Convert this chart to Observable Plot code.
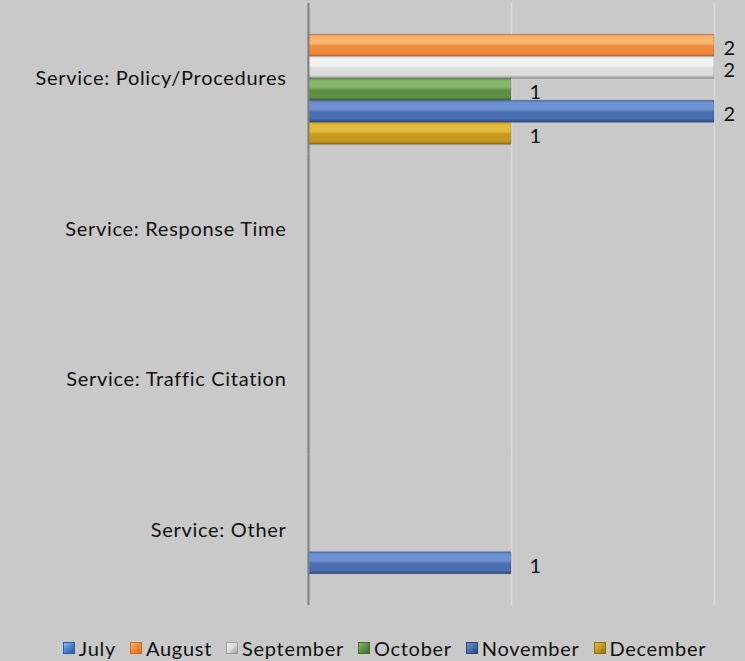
<!DOCTYPE html>
<html>
<head>
<meta charset="utf-8">
<script src="https://cdn.jsdelivr.net/npm/d3@7"></script>
<script src="https://cdn.jsdelivr.net/npm/@observablehq/plot@0.6"></script>
<style>
  html, body { margin: 0; padding: 0; background: #c9c9c9; }
  body { width: 745px; height: 661px; overflow: hidden; font-family: Lato, "Open Sans", sans-serif; }
  #chart svg { display: block; letter-spacing: 0.7px; }
  #legend { display: flex; justify-content: center; align-items: center; margin-top: 16px; padding-left: 24px; height: 24px; line-height: 24px; font-size: 20px; letter-spacing: 0.7px; color: #111; }
  .item { display: flex; align-items: center; margin: 0 7px; }
  .sw { width: 12px; height: 12px; margin-right: 4px; box-sizing: border-box; }
</style>
</head>
<body>
<div id="chart"></div>
<div id="legend"></div>
<script>
const categories = ["Service: Policy/Procedures", "Service: Response Time", "Service: Traffic Citation", "Service: Other"];
const months = ["July", "August", "September", "October", "November", "December"];
const july      = [0, 0, 0, 0];
const august    = [2, 0, 0, 0];
const september = [2, 0, 0, 0];
const october   = [1, 0, 0, 0];
const november  = [2, 0, 0, 1];
const december  = [1, 0, 0, 0];
const gridValues = [0, 1, 2];
const seriesValues = [july, august, september, october, november, december];
// [top highlight, body, bottom shade]
const colors = [
  ["#8fb6ec", "#4f81d0", "#2f5a9e"],
  ["#fbb46e", "#ee8a3c", "#cf6a22"],
  ["#f2f2f2", "#dcdcdc", "#9c9c9c"],
  ["#86b66c", "#5e8f45", "#456d30"],
  ["#6f93d2", "#4a6eb0", "#2c4678"],
  ["#e3bb3e", "#c89a20", "#916e12"]
];

const data = [];
months.forEach((m, i) => categories.forEach((c, j) => {
  const v = seriesValues[i][j];
  if (v > 0) data.push({category: c, month: m, value: v});
}));
const grid = categories.flatMap(c => gridValues.map(x => ({category: c, x})));

const gradIds = months.map((m, i) => "grad" + i);

const chart = Plot.plot({
  width: 745,
  height: 620,
  marginLeft: 308,
  marginRight: 31,
  marginTop: 3,
  marginBottom: 15,
  style: {background: "transparent", fontFamily: "Lato, 'Open Sans', sans-serif", fontSize: "20px", color: "#111"},
  x: {domain: [0, 2], axis: null},
  y: {domain: months, paddingInner: 0, paddingOuter: 0.42, round: false, axis: null},
  fy: {domain: categories, padding: 0, round: false, axis: "left", tickSize: 0, tickPadding: 22, label: null},
  color: {domain: months, range: gradIds.map(id => `url(#${id})`)},
  marks: [
    Plot.ruleX(grid.filter(d => d.x > 0), {x: "x", fy: "category", stroke: "#dadada", strokeWidth: 1.5, strokeOpacity: 1}),
    Plot.barX(data, {x: "value", y: "month", fy: "category", fill: "month", stroke: "rgba(0,0,0,0.22)", strokeWidth: 0.8}),
    Plot.ruleX(grid.filter(d => d.x === 0), {x: "x", fy: "category", stroke: "#7f7f7f", strokeWidth: 2, strokeOpacity: 1}),
    Plot.text(data.filter(d => d.value === 2), {x: "value", y: "month", fy: "category", text: d => String(d.value), textAnchor: "start", dx: 9, dy: 3, fontSize: 20, fill: "#111"}),
    Plot.text(data.filter(d => d.value === 1), {x: "value", y: "month", fy: "category", text: d => String(d.value), textAnchor: "start", dx: 18, dy: 3, fontSize: 20, fill: "#111"})
  ]
});

// gradient defs for the bevelled bars
const svg = d3.select(chart);
const defs = svg.insert("defs", ":first-child");
colors.forEach((c, i) => {
  const g = defs.append("linearGradient").attr("id", gradIds[i]).attr("x1", 0).attr("x2", 0).attr("y1", 0).attr("y2", 1);
  g.append("stop").attr("offset", "0%").attr("stop-color", c[1]);
  g.append("stop").attr("offset", "12%").attr("stop-color", c[0]);
  g.append("stop").attr("offset", "40%").attr("stop-color", c[0]);
  g.append("stop").attr("offset", "55%").attr("stop-color", c[1]);
  g.append("stop").attr("offset", "85%").attr("stop-color", c[1]);
  g.append("stop").attr("offset", "100%").attr("stop-color", c[2]);
});
document.getElementById("chart").appendChild(chart);

const legend = document.getElementById("legend");
months.forEach((m, i) => {
  const it = document.createElement("div");
  it.className = "item";
  const sw = document.createElement("div");
  sw.className = "sw";
  const c = colors[i];
  sw.style.background = `linear-gradient(135deg, ${c[0]} 0%, ${c[1]} 50%, ${c[2]} 100%)`;
  sw.style.border = `1px solid ${c[2]}`;
  const t = document.createElement("span");
  t.textContent = m;
  it.appendChild(sw);
  it.appendChild(t);
  legend.appendChild(it);
});
</script>
</body>
</html>
